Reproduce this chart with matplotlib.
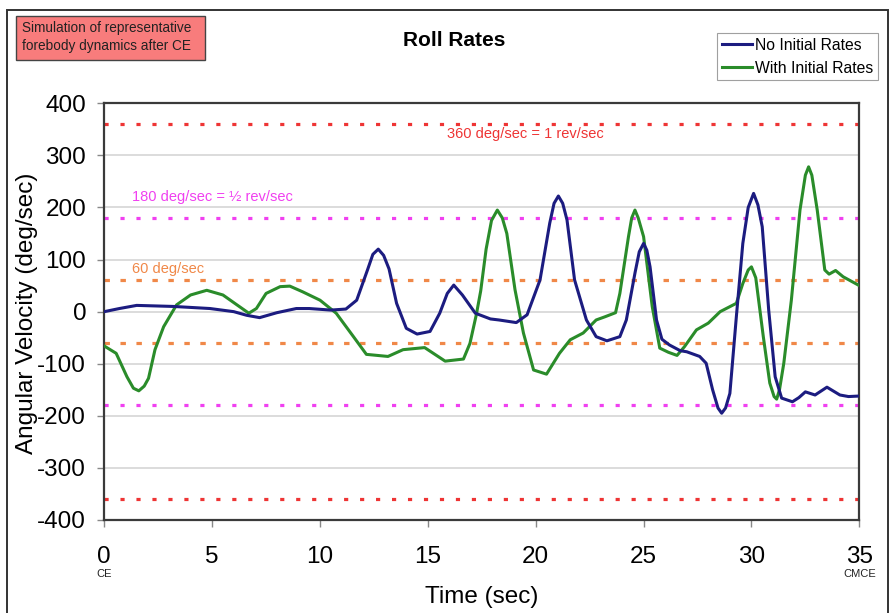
import matplotlib
matplotlib.use("Agg")
import matplotlib.pyplot as plt
from matplotlib.patches import Rectangle
from matplotlib.lines import Line2D

plt.rcParams['font.family'] = ['Liberation Sans', 'DejaVu Sans']
plt.rcParams['axes.unicode_minus'] = False

# ---------------- data ----------------
t_no = [0.0, 0.7, 1.5, 3.2, 4.9, 6.0, 6.6, 7.2, 8.0, 8.9, 9.5, 10.5, 11.2, 11.7,
        12.2, 12.45, 12.7, 12.95, 13.2, 13.55, 14.0, 14.5, 15.1, 15.55, 15.9, 16.2,
        16.6, 17.2, 17.9, 18.3, 19.1, 19.6, 20.2, 20.65, 20.85, 21.05, 21.25, 21.45,
        21.8, 22.35, 22.8, 23.3, 23.9, 24.2, 24.6, 24.8, 25.0, 25.15, 25.3, 25.6,
        25.85, 26.2, 26.7, 27.0, 27.6, 27.9, 28.2, 28.45, 28.62, 28.8, 29.0, 29.3,
        29.6, 29.85, 30.1, 30.3, 30.5, 30.8, 31.1, 31.4, 31.9, 32.2, 32.5, 32.95,
        33.5, 34.1, 34.5, 35.0]
v_no = [0, 6, 12, 10, 6, 0, -7, -11.5, -2, 6, 6, 3, 5, 22,
        80, 110, 120, 108, 82, 16, -32, -43, -38, -3, 35, 51,
        32, -3, -14, -16, -21, -6, 61, 170, 208, 222, 208, 176,
        61, -16, -48, -56, -48, -16, 74, 115, 131, 118, 86, -16,
        -53, -64, -75, -77, -86, -99, -150, -185, -195, -185, -157, -10,
        131, 200, 227, 205, 163, 3, -125, -166, -173, -165, -154, -160,
        -145, -160, -163, -162]

t_with = [0.0, 0.55, 1.05, 1.35, 1.6, 1.85, 2.05, 2.35, 2.75, 3.35, 4.0, 4.75,
          5.5, 6.15, 6.7, 7.05, 7.5, 8.15, 8.6, 9.2, 10.0, 10.75, 11.55, 12.15,
          13.15, 13.85, 14.85, 15.8, 16.65, 16.95, 17.25, 17.45, 17.7, 17.95, 18.22,
          18.45, 18.66, 19.04, 19.43, 19.9, 20.5, 21.1, 21.6, 22.2, 22.8, 23.2,
          23.7, 23.9, 24.3, 24.45, 24.6, 24.75, 25.0, 25.4, 25.75, 26.15, 26.55,
          26.9, 27.45, 28.0, 28.55, 29.3, 29.6, 29.85, 30.0, 30.2, 30.55, 30.85,
          31.05, 31.17, 31.3, 31.5, 31.85, 32.25, 32.5, 32.65, 32.8, 33.05, 33.4,
          33.6, 33.9, 34.25, 35.0]
v_with = [-66, -80, -125, -147, -152, -143, -128, -73, -29, 13, 32, 41,
          32, 13, -3, 6, 35, 48, 49, 38, 22, -3, -48, -82,
          -86, -73, -69, -95, -91, -61, -5, 40, 120, 175, 195,
          180, 150, 42, -41, -112, -120, -80, -54, -41, -16, -10,
          -2, 35, 144, 180, 195, 180, 144, 10, -70, -78, -84,
          -67, -35, -22, 0, 16, 54, 80, 86, 65, -48, -137,
          -163, -168, -150, -99, 22, 195, 262, 278, 262, 195, 80,
          72, 79, 67, 50]

series_names = ["No Initial Rates", "With Initial Rates"]
ref_levels = [360, 180, 60]
ref_labels = ["360 deg/sec = 1 rev/sec", "180 deg/sec = \u00bd rev/sec", "60 deg/sec"]
x_ticks = [0, 5, 10, 15, 20, 25, 30, 35]
y_ticks = [-400, -300, -200, -100, 0, 100, 200, 300, 400]
event_labels = {0: "CE", 35: "CMCE"}

# ---------------- figure ----------------
W, H = 892, 613
fig = plt.figure(figsize=(W / 100, H / 100), dpi=100)

def fx(px):
    return px / W

def fy(py):
    return 1 - py / H

ax = fig.add_axes([fx(104.3), fy(520), fx(859.3) - fx(104.3), fy(103.3) - fy(520)])
ax.set_xlim(0, 35)
ax.set_ylim(-400, 400)

ax.set_yticks(y_ticks)
ax.set_xticks(x_ticks)
ax.yaxis.grid(True, color='#d6d6d6', lw=1.2)
ax.set_axisbelow(True)
for s in ax.spines.values():
    s.set_color('#3a3a3a')
    s.set_linewidth(1.6)
ax.tick_params(axis='both', labelsize=17.5, length=5, width=1, color='#888888')
ax.tick_params(axis='y', pad=8)
ax.tick_params(axis='x', pad=14)

ref_colors = ['#ee3434', '#f040f0', '#f08848']
ref_styles = [(0, (1.3, 3.7)), (0, (1.3, 3.7)), (0, (1.7, 3.3))]
for lev, col, ls in zip(ref_levels, ref_colors, ref_styles):
    for sgn in (1, -1):
        ax.axhline(sgn * lev, color=col, lw=2.3, linestyle=ls, zorder=2)

ax.text(19.5, 341, ref_labels[0], color=ref_colors[0], fontsize=10.5, ha='center', va='center')
ax.text(1.3, 221, ref_labels[1], color=ref_colors[1], fontsize=10.5, ha='left', va='center')
ax.text(1.3, 81, ref_labels[2], color=ref_colors[2], fontsize=10.5, ha='left', va='center')

c_no = '#1c1c80'
c_with = '#2a8c2a'
ax.plot(t_no, v_no, color=c_no, lw=2.2, solid_joinstyle='round', zorder=4)
ax.plot(t_with, v_with, color=c_with, lw=2.2, solid_joinstyle='round', zorder=3)

for xv, lab in event_labels.items():
    ax.text(xv, -0.13, lab, transform=ax.get_xaxis_transform(), fontsize=8,
            ha='center', va='center', color='#222222')

ax.set_xlabel("Time (sec)", fontsize=17.5)
ax.xaxis.set_label_coords(0.5, (520 - 597) / 416.7, transform=ax.transAxes)
ax.xaxis.label.set_va('center')
ax.set_ylabel("Angular Velocity (deg/sec)", fontsize=17.5)
ax.yaxis.set_label_coords((27 - 104.3) / 755.0, 0.495, transform=ax.transAxes)
ax.yaxis.label.set_va('center')

# title
fig.text(fx(454), fy(41), "Roll Rates", fontsize=15, fontweight='bold', ha='center', va='center')

# annotation box
fig.patches.append(Rectangle((fx(16), fy(60)), fx(205) - fx(16), fy(15.7) - fy(60),
                             transform=fig.transFigure, facecolor='#f87c7c',
                             edgecolor='#444444', lw=1.0))
fig.text(fx(22.5), fy(28.3), "Simulation of representative", fontsize=9.8,
         ha='left', va='center', color='#222222')
fig.text(fx(22.5), fy(45.7), "forebody dynamics after CE", fontsize=9.8,
         ha='left', va='center', color='#222222')

# legend
handles = [Line2D([], [], color=c_no, lw=2.2), Line2D([], [], color=c_with, lw=2.2)]
leg = fig.legend(handles, series_names, loc='upper right',
                 bbox_to_anchor=(fx(878), fy(33)), fontsize=11.3, frameon=True,
                 fancybox=False, handlelength=1.9, handletextpad=0.2,
                 borderpad=0.3, labelspacing=0.5, borderaxespad=0)
leg.get_frame().set_edgecolor('#888888')
leg.get_frame().set_linewidth(0.8)

# outer frame
fig.patches.append(Rectangle((fx(6.7), fy(700)), fx(888) - fx(6.7), fy(10) - fy(700),
                             transform=fig.transFigure, facecolor='none',
                             edgecolor='#333333', lw=1.4, clip_on=False))

fig.savefig("out.png", dpi=100)
